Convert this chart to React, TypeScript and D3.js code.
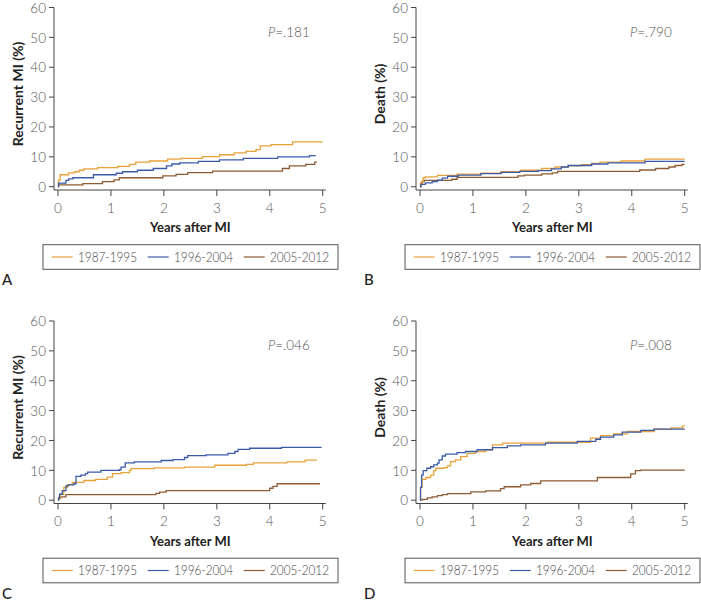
import React from 'react';
import * as d3 from 'd3';

type Pt = [number, number];

const seriesNames = ['1987-1995', '1996-2004', '2005-2012'];
const seriesColors = ['#E9A23B', '#3B5BA9', '#8E5B33'];
const xTicks = [0, 1, 2, 3, 4, 5];
const yTicks = [0, 10, 20, 30, 40, 50, 60];

// Panel A: Recurrent MI
const aOrange: Pt[] = [[0,0],[0.01,2.2],[0.04,4.0],[0.2,4.6],[0.31,5.0],[0.4,5.5],[0.49,6.0],[0.75,6.4],[1.13,6.8],[1.35,7.5],[1.47,8.2],[1.73,8.6],[2.07,9.2],[2.32,9.5],[2.73,10.1],[3.05,10.7],[3.33,11.3],[3.55,11.8],[3.74,12.4],[3.82,13.7],[4.02,14.1],[4.43,15.0],[5.0,15.0]];
const aBlue: Pt[] = [[0,0],[0.01,1.2],[0.15,2.1],[0.2,2.6],[0.28,3.0],[0.67,4.0],[1.1,4.5],[1.22,5.0],[1.5,5.5],[1.8,6.1],[2.05,7.0],[2.15,7.6],[2.3,8.0],[2.65,8.5],[3.05,9.0],[3.5,9.5],[4.15,10.0],[4.75,10.4],[4.87,10.4]];
const aBrown: Pt[] = [[0,0],[0.01,0.6],[0.47,1.0],[0.84,1.7],[1.06,2.3],[1.16,3.0],[1.98,3.6],[2.23,4.1],[2.45,4.7],[2.92,5.2],[4.24,6.1],[4.37,7.0],[4.68,7.5],[4.85,8.2],[4.89,8.2]];

// Panel B: Death
const bOrange: Pt[] = [[0,0],[0.02,1.5],[0.06,3.0],[0.1,3.3],[0.33,3.8],[0.7,4.2],[1.15,4.5],[1.53,5.0],[1.9,5.5],[2.3,6.1],[2.55,6.6],[2.8,7.0],[3.05,7.4],[3.25,7.8],[3.4,8.2],[3.8,8.6],[4.25,9.2],[5.0,9.2]];
const bBlue: Pt[] = [[0,0],[0.02,0.8],[0.1,1.3],[0.23,1.7],[0.33,2.2],[0.42,2.9],[0.52,3.5],[0.72,3.9],[1.15,4.4],[1.53,4.8],[1.88,5.1],[2.23,5.4],[2.48,6.0],[2.67,6.6],[2.8,7.1],[3.24,7.6],[3.55,8.0],[4.25,8.5],[5.0,8.5]];
const bBrown: Pt[] = [[0,0],[0.01,1.0],[0.04,1.8],[0.08,2.1],[0.6,2.5],[0.7,3.1],[1.85,3.6],[1.97,3.9],[2.3,4.3],[2.5,4.6],[2.6,5.1],[4.15,5.6],[4.45,6.1],[4.7,6.6],[4.82,7.1],[4.95,7.5],[5.0,7.5]];

// Panel C: Recurrent MI
const cOrange: Pt[] = [[0,0],[0.02,1.0],[0.05,2.0],[0.11,4.3],[0.18,5.2],[0.27,6.0],[0.49,6.6],[0.71,7.0],[0.93,7.7],[1.03,8.9],[1.19,9.2],[1.35,10.0],[1.38,10.6],[1.82,10.8],[2.39,11.1],[2.96,11.7],[3.56,12.0],[3.69,12.5],[4.32,12.8],[4.67,13.4],[4.89,13.4]];
const cBlue: Pt[] = [[0,0],[0.01,0.8],[0.03,2.0],[0.08,3.2],[0.15,4.8],[0.2,5.1],[0.3,5.5],[0.34,8.0],[0.43,8.4],[0.52,8.9],[0.56,9.4],[0.81,10.0],[1.16,10.2],[1.19,11.1],[1.27,12.5],[1.44,12.8],[1.95,13.3],[2.17,13.6],[2.39,14.3],[2.45,14.9],[2.8,15.2],[3.21,15.7],[3.34,16.3],[3.4,17.0],[3.62,17.4],[4.22,17.7],[4.98,17.7]];
const cBrown: Pt[] = [[0,0],[0.01,0.7],[0.05,1.1],[0.15,1.9],[1.85,2.3],[1.92,2.7],[2.04,3.2],[4.0,4.0],[4.06,4.6],[4.14,5.5],[4.95,5.5]];

// Panel D: Death
const dOrange: Pt[] = [[0,0],[0.01,4.3],[0.04,7.0],[0.11,7.6],[0.2,8.4],[0.26,9.9],[0.3,10.7],[0.45,10.9],[0.52,11.5],[0.58,12.9],[0.67,13.5],[0.77,14.6],[0.89,15.7],[1.05,16.3],[1.24,16.9],[1.37,18.5],[1.56,19.1],[2.4,19.4],[3.22,20.8],[3.41,21.6],[3.66,22.2],[3.92,23.0],[4.42,23.8],[4.74,24.2],[4.96,24.9],[5.0,24.9]];
const dBlue: Pt[] = [[0,0],[0.01,4.3],[0.03,8.4],[0.06,9.9],[0.13,10.7],[0.2,11.2],[0.26,11.8],[0.33,12.4],[0.36,13.5],[0.42,14.8],[0.48,15.4],[0.7,15.9],[0.86,16.3],[1.08,16.9],[1.37,17.6],[1.65,18.2],[1.9,18.5],[2.37,19.1],[2.97,19.7],[3.32,20.4],[3.41,21.1],[3.66,21.9],[3.82,22.8],[4.17,23.4],[4.42,23.8],[5.0,23.8]];
const dBrown: Pt[] = [[0,0],[0.04,0.3],[0.14,0.8],[0.23,1.1],[0.33,1.5],[0.42,1.9],[0.52,2.2],[0.96,2.8],[1.24,3.1],[1.52,3.9],[1.59,4.5],[1.9,5.1],[2.09,5.6],[2.28,6.5],[3.35,7.6],[3.98,8.8],[4.07,9.9],[4.17,10.1],[5.0,10.1]];

const FONT = "Lato, 'DejaVu Sans', sans-serif";

interface PanelProps {
  ox: number;
  oy: number;
  yLabel: string;
  pValue: string;
  letter: string;
  series: Pt[][];
}

function Panel({ ox, oy, yLabel, pValue, letter, series }: PanelProps) {
  const x = d3.scaleLinear().domain([0, 5]).range([58 + ox, 322.7 + ox]);
  const y = d3.scaleLinear().domain([0, 60]).range([186.7 + oy, 7.5 + oy]);
  const axisX = 54 + ox;
  const axisY = 190 + oy;
  const line = d3
    .line<Pt>()
    .x((d) => x(d[0]))
    .y((d) => y(d[1]))
    .curve(d3.curveStepAfter);
  const drawOrder = [2, 0, 1];
  const legX = 43 + ox;
  const legY = 244.7 + oy;
  const itemOffsets = [0, 96, 192];
  return (
    <g>
      {/* axes */}
      <line x1={axisX} x2={axisX} y1={y(60)} y2={axisY} stroke="#444" strokeWidth={1} />
      <line x1={axisX} x2={x(5) + 3} y1={axisY} y2={axisY} stroke="#444" strokeWidth={1} />
      {yTicks.map((t) => (
        <g key={'y' + t}>
          <line x1={axisX - 5} x2={axisX} y1={y(t)} y2={y(t)} stroke="#444" strokeWidth={1} />
          <text x={axisX - 8} y={y(t) + 0.5} dy="0.35em" textAnchor="end" fontSize={13.5} fontWeight={300} fill="#555" fontFamily={FONT}>
            {t}
          </text>
        </g>
      ))}
      {xTicks.map((t) => (
        <g key={'x' + t}>
          <line x1={x(t)} x2={x(t)} y1={axisY} y2={axisY + 6} stroke="#444" strokeWidth={1} />
          <text x={x(t)} y={208 + oy} dy="0.35em" textAnchor="middle" fontSize={13.5} fontWeight={300} fill="#555" fontFamily={FONT}>
            {t}
          </text>
        </g>
      ))}
      <text x={(x(0) + x(5)) / 2} y={227.5 + oy} dy="0.35em" textAnchor="middle" fontSize={13} fontWeight={700} fill="#222" fontFamily={FONT}>
        Years after MI
      </text>
      <text
        transform={`translate(${18 + ox},${94 + oy}) rotate(-90)`}
        dy="0.35em"
        textAnchor="middle"
        fontSize={14}
        fontWeight={700}
        fill="#222"
        fontFamily={FONT}
      >
        {yLabel}
      </text>
      <text x={268 + ox} y={32 + oy} dy="0.35em" fontSize={13.5} fontWeight={300} fill="#555" fontFamily={FONT}>
        <tspan fontStyle="italic">P</tspan>
        {pValue}
      </text>
      {/* curves */}
      {drawOrder.map((i) => (
        <path key={'s' + i} d={line(series[i]) || ''} fill="none" stroke={seriesColors[i]} strokeWidth={1.3} />
      ))}
      {/* legend */}
      <rect x={legX} y={legY} width={295} height={24.6} fill="white" stroke="#555" strokeWidth={1} />
      {seriesNames.map((name, i) => (
        <g key={'l' + i}>
          <line
            x1={legX + 8.7 + itemOffsets[i]}
            x2={legX + 29.7 + itemOffsets[i]}
            y1={legY + 12.3}
            y2={legY + 12.3}
            stroke={seriesColors[i]}
            strokeWidth={1.2}
          />
          <text
            x={legX + 35 + itemOffsets[i]}
            y={legY + 12.3}
            dy="0.35em"
            fontSize={14}
            fontWeight={300}
            fill="#444"
            fontFamily={FONT}
            textLength={59}
            lengthAdjust="spacingAndGlyphs"
          >
            {name}
          </text>
        </g>
      ))}
      <text x={2 + ox} y={280 + oy} dy="0.35em" fontSize={15} fontWeight={500} fill="#222" fontFamily={FONT}>
        {letter}
      </text>
    </g>
  );
}

export default function App() {
  return (
    <svg width={701} height={602} style={{ position: 'absolute', left: 0, top: 0, background: 'white' }}>
      <rect width={701} height={602} fill="white" />
      <Panel ox={0} oy={0} yLabel="Recurrent MI (%)" pValue="=.181" letter="A" series={[aOrange, aBlue, aBrown]} />
      <Panel ox={362} oy={0} yLabel="Death (%)" pValue="=.790" letter="B" series={[bOrange, bBlue, bBrown]} />
      <Panel ox={0} oy={313.5} yLabel="Recurrent MI (%)" pValue="=.046" letter="C" series={[cOrange, cBlue, cBrown]} />
      <Panel ox={362} oy={313.5} yLabel="Death (%)" pValue="=.008" letter="D" series={[dOrange, dBlue, dBrown]} />
    </svg>
  );
}
